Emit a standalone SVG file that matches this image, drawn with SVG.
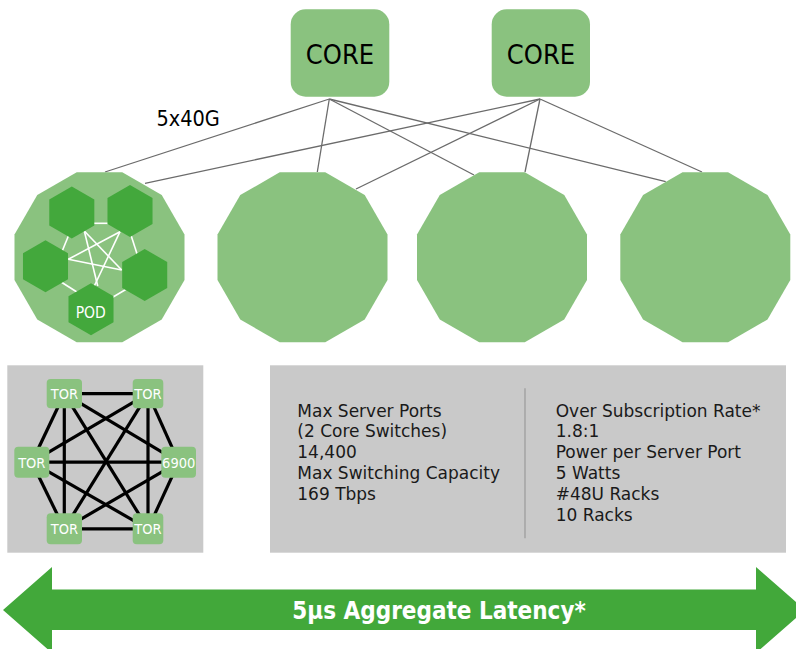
<svg xmlns="http://www.w3.org/2000/svg" xmlns:xlink="http://www.w3.org/1999/xlink" width="796" height="649" viewBox="0 0 796 649">
<style>
.lg{fill:#8ac27f}
.dg{fill:#43a83c}
.conn{stroke:#6b6b6b;stroke-width:1.3;fill:none}
.wl{stroke:#ffffff;stroke-width:1.6;fill:none}
.bl{stroke:#000000;stroke-width:3.2;fill:none}
.core{font-family:"DejaVu Sans Condensed","DejaVu Sans",sans-serif;font-size:27px;fill:#000;text-anchor:middle}
.lbl{font-family:"DejaVu Sans Condensed","DejaVu Sans",sans-serif;font-size:21.5px;fill:#000}
.tor{font-family:"DejaVu Sans Condensed","DejaVu Sans",sans-serif;font-size:14.5px;fill:#fff;text-anchor:middle}
.pod{font-family:"DejaVu Sans Condensed","DejaVu Sans",sans-serif;font-size:15.5px;fill:#fff;text-anchor:middle}
.info{font-family:"DejaVu Sans",sans-serif;font-size:17px;fill:#1a1a1a}
.arr{font-family:"DejaVu Sans Condensed","DejaVu Sans",sans-serif;font-size:24px;font-weight:bold;fill:#fff;text-anchor:middle}
</style>
<defs>
<polygon id="dodec" points="22.78,-85 62.23,-62.23 85,-22.78 85,22.78 62.23,62.23 22.78,85 -22.78,85 -62.23,62.23 -85,22.78 -85,-22.78 -62.23,-62.23 -22.78,-85"/>
<polygon id="hex" points="0,-26 22.52,-13 22.52,13 0,26 -22.52,13 -22.52,-13"/>
</defs>

<g id="connectors">
<line class="conn" x1="329.3" y1="99" x2="105" y2="172"/>
<line class="conn" x1="329.3" y1="99" x2="317.3" y2="172"/>
<line class="conn" x1="329.3" y1="99" x2="474" y2="175"/>
<line class="conn" x1="329.3" y1="99" x2="665.7" y2="181.7"/>
<line class="conn" x1="540" y1="99" x2="145" y2="183.3"/>
<line class="conn" x1="540" y1="99" x2="356" y2="189"/>
<line class="conn" x1="540" y1="99" x2="525" y2="172"/>
<line class="conn" x1="540" y1="99" x2="702" y2="172"/>
</g>

<g id="core1">
<rect class="lg" x="290.7" y="9.3" width="98.6" height="87.4" rx="15"/>
<text class="core" x="340" y="64">CORE</text>
</g>
<g id="core2">
<rect class="lg" x="491.7" y="9.3" width="98.3" height="87.4" rx="15"/>
<text class="core" x="541" y="64">CORE</text>
</g>

<g id="label-5x40g">
<text class="lbl" x="156.5" y="126">5x40G</text>
</g>

<g id="pod-cluster-1">
<use xlink:href="#dodec" href="#dodec" class="lg" x="99.5" y="257.3"/>
<g id="pod-mesh">
<line class="wl" x1="85" y1="223.3" x2="115" y2="223.3"/>
<line class="wl" x1="70" y1="232" x2="61" y2="254"/>
<line class="wl" x1="130" y1="232" x2="139" y2="260"/>
<line class="wl" x1="58" y1="280" x2="80" y2="294"/>
<line class="wl" x1="108" y1="300" x2="130" y2="287"/>
<line class="wl" x1="84.3" y1="231" x2="121.7" y2="270"/>
<line class="wl" x1="84.3" y1="231" x2="97.7" y2="286"/>
<line class="wl" x1="120" y1="231.7" x2="68.3" y2="259.3"/>
<line class="wl" x1="120" y1="231.7" x2="94.3" y2="286"/>
<line class="wl" x1="68.3" y1="259.3" x2="121.7" y2="270"/>
</g>
<use xlink:href="#hex" href="#hex" class="dg" x="71.8" y="212.5"/>
<use xlink:href="#hex" href="#hex" class="dg" x="130" y="211"/>
<use xlink:href="#hex" href="#hex" class="dg" x="45.5" y="266.3"/>
<use xlink:href="#hex" href="#hex" class="dg" x="144.7" y="275"/>
<use xlink:href="#hex" href="#hex" class="dg" x="91" y="309.2"/>
<text class="pod" x="90.7" y="318.3">POD</text>
</g>
<g id="pod-cluster-2"><use xlink:href="#dodec" href="#dodec" class="lg" x="302.5" y="257.3"/></g>
<g id="pod-cluster-3"><use xlink:href="#dodec" href="#dodec" class="lg" x="502" y="257.3"/></g>
<g id="pod-cluster-4"><use xlink:href="#dodec" href="#dodec" class="lg" x="705.3" y="257.3"/></g>

<g id="tor-panel">
<rect x="7.3" y="365.3" width="196" height="187.4" fill="#c9c9c9"/>
<g id="tor-mesh">
<line class="bl" x1="64.3" y1="393.7" x2="148" y2="393.7"/>
<line class="bl" x1="64.3" y1="393.7" x2="31.8" y2="462.2"/>
<line class="bl" x1="64.3" y1="393.7" x2="178.7" y2="462.2"/>
<line class="bl" x1="64.3" y1="393.7" x2="64.3" y2="528.8"/>
<line class="bl" x1="64.3" y1="393.7" x2="148" y2="528.8"/>
<line class="bl" x1="148" y1="393.7" x2="31.8" y2="462.2"/>
<line class="bl" x1="148" y1="393.7" x2="178.7" y2="462.2"/>
<line class="bl" x1="148" y1="393.7" x2="64.3" y2="528.8"/>
<line class="bl" x1="148" y1="393.7" x2="148" y2="528.8"/>
<line class="bl" x1="31.8" y1="462.2" x2="178.7" y2="462.2"/>
<line class="bl" x1="31.8" y1="462.2" x2="64.3" y2="528.8"/>
<line class="bl" x1="31.8" y1="462.2" x2="148" y2="528.8"/>
<line class="bl" x1="178.7" y1="462.2" x2="64.3" y2="528.8"/>
<line class="bl" x1="178.7" y1="462.2" x2="148" y2="528.8"/>
<line class="bl" x1="64.3" y1="528.8" x2="148" y2="528.8"/>
</g>
<g id="tor-tl"><rect class="lg" x="46.7" y="379" width="35.3" height="29.3" rx="4"/><text class="tor" x="64.5" y="398.8">TOR</text></g>
<g id="tor-tr"><rect class="lg" x="132.7" y="379" width="30.6" height="29.3" rx="4"/><text class="tor" x="148" y="398.8">TOR</text></g>
<g id="tor-l"><rect class="lg" x="14.3" y="446.7" width="35" height="31" rx="4"/><text class="tor" x="31.8" y="467.6">TOR</text></g>
<g id="sw-6900"><rect class="lg" x="161.3" y="446.7" width="34.7" height="31" rx="4"/><text class="tor" x="178.7" y="467.6">6900</text></g>
<g id="tor-bl"><rect class="lg" x="46.7" y="513.3" width="35.3" height="31" rx="4"/><text class="tor" x="64.5" y="534.1">TOR</text></g>
<g id="tor-br"><rect class="lg" x="132.7" y="513.3" width="30.6" height="31" rx="4"/><text class="tor" x="148" y="534.1">TOR</text></g>
</g>

<g id="info-panel">
<rect x="270" y="365.3" width="516" height="187.4" fill="#c9c9c9"/>
<line x1="525" y1="388.3" x2="525" y2="538.3" stroke="#9a9a9a" stroke-width="1.2"/>
<text class="info">
<tspan x="297.3" y="416.7">Max Server Ports</tspan>
<tspan x="297.3" y="437.3">(2 Core Switches)</tspan>
<tspan x="297.3" y="458">14,400</tspan>
<tspan x="297.3" y="479">Max Switching Capacity</tspan>
<tspan x="297.3" y="500">169 Tbps</tspan>
</text>
<text class="info">
<tspan x="555.7" y="416.7">Over Subscription Rate*</tspan>
<tspan x="555.7" y="437.3">1.8:1</tspan>
<tspan x="555.7" y="458">Power per Server Port</tspan>
<tspan x="555.7" y="479">5 Watts</tspan>
<tspan x="555.7" y="500">#48U Racks</tspan>
<tspan x="555.7" y="520.7">10 Racks</tspan>
</text>
</g>

<g id="latency-arrow">
<polygon points="3,610 52,567 52,589.5 756,589.5 756,567 805,610 756,653 756,630 52,630 52,653" fill="#42a83a"/>
<text class="arr" x="439" y="619">5μs Aggregate Latency*</text>
</g>
</svg>
